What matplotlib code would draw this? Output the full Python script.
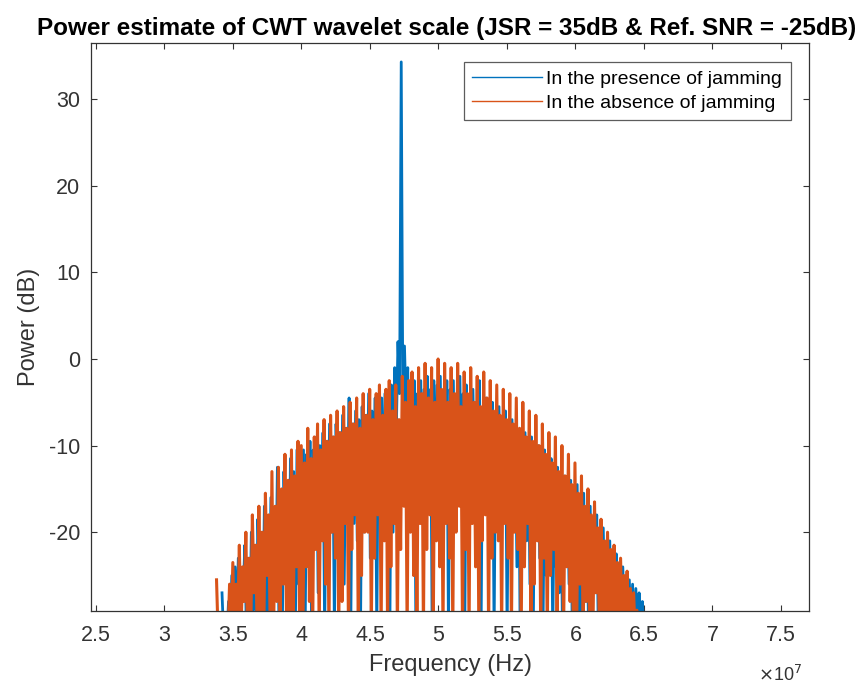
import numpy as np
import matplotlib
matplotlib.use("Agg")
import matplotlib.pyplot as plt
from matplotlib.ticker import FuncFormatter

plt.rcParams['font.family'] = ['Liberation Sans', 'DejaVu Sans']
plt.rcParams['axes.unicode_minus'] = False

# ---------------- data ----------------
# "In the absence of jamming" (orange): alternating local maxima / minima, 3.38e7 .. 6.46e7 Hz
f_abs_start, f_abs_end = 3.38e7, 6.46e7
absent_hi = [-25.5, -31, -31, -30, -26,
             -23.5, -26, -21.5, -24, -20, -23, -18, -21.5, -17, -20, -15.5, -18, -13, -17, -12.5, -15, -11, -14, -10.5, -13.5, -9.5,
             -10, -12, -8, -11.5, -9, -7.5, -10.5, -7, -9.5, -6.5, -9, -6, -8.5, -5.5, -8, -5, -7.5, -4.5, -8, -4,
             -6.5, -3.5, -7, -4, -3, -6.5, -3.5, -2.5, -6, -3, -7, -2, -5, -2.5, -1.5, -5.5, -1, -4, -0.5, -4.5,
             -1, -5, 0, -3.5, -0.5, -5, -1, -4, -0.5, -5.5, -1.5, -4, -1, -5, -2, -5.5, -1.5, -4.5, -2.5, -6,
             -3, -6.5, -3.5, -7, -4, -7.5, -4.5, -8, -5, -9, -6, -9.5, -6.5, -10, -7.5, -11, -8.5, -12, -9, -13, -10, -13.5, -11, -14.5,
             -12, -15.5, -13.5, -17, -15, -18, -16.5, -19.5, -18.5, -21, -20, -22, -21.5, -23.5, -23, -25, -24.5, -26.5, -27, -29]
absent_lo = [-32, -32, -32, -32, -32,
             -32, -30, -32, -28, -32, -32, -27, -32, -30, -32, -25, -32, -32, -28, -32, -26, -32, -30, -32, -24, -32,
             -32, -24, -28, -32, -22, -32, -21, -26, -32, -20, -23, -32, -28, -19, -32, -22, -18, -32, -25, -20,
             -20, -32, -23, -18, -32, -21, -32, -24, -19, -32, -22, -17, -32, -20, -25, -32, -19, -32, -22, -18,
             -32, -21, -24, -32, -19, -23, -32, -20, -17, -32, -22, -32, -19, -24, -32, -21, -18, -32, -23, -20,
             -21, -32, -19, -23, -32, -20, -22, -32, -24, -19, -32, -26, -21, -32, -23, -32, -25, -22, -32, -26, -32, -24, -28, -32,
             -32, -26, -32, -28, -32, -32, -27, -32, -30, -32, -32, -29, -32, -32, -32, -31, -32, -32, -32, -32]

# "In the presence of jamming" (blue): 3.42e7 .. 6.50e7 Hz, jammer spike near 4.74e7 Hz
f_pres_start, f_pres_end = 3.42e7, 6.50e7
present_hi = [-27, -31, -28, -25, -24,
              -23, -24.5, -21.5, -23, -20, -21.5, -18.5, -20, -17, -18.5, -16, -17.5, -12.5, -15.5, -13, -14.5, -11.5, -13, -10.5, -12.5, -10.5,
              -11, -9.5, -10.5, -9, -10, -8.5, -9.5, -7.5, -9, -7.5, -8.5, -6.5, -8, -4.5, -7.5, -6, -7, -5.5, -6.5, -4,
              -6, -4.5, -5.5, -4.5, -4, -5, -3, -1, 2, 34.3, 1.5, -1, -3.5, -2.5, -4, -2.5, -3.5, -2, -3.5, -2.5,
              -3, -2, -3.5, -2.5, -3.5, -2.5, -4, -2, -4, -3, -4.5, -3.5, -5, -2.5, -5.5, -4.5, -6, -5, -6.5, -5.5,
              -7, -6, -7.5, -7, -8, -8.5, -9, -8.5, -9.5, -9, -11, -10, -11.5, -10.5, -12.5, -11.5, -13.5, -12.5, -14.5, -13.5, -15, -14, -15.5, -14.5,
              -16.5, -15.5, -17.5, -17, -18.5, -18, -20, -19.5, -21, -21, -22.5, -22.5, -23.5, -24, -25, -25.5, -26, -26.5, -27, -28]
present_lo = [-32, -32, -32, -32, -30,
              -32, -27, -32, -32, -29, -32, -25, -32, -32, -30, -32, -27, -32, -32, -23, -32, -30, -32, -26, -32, -32,
              -24, -32, -21, -27, -19, -32, -24, -20, -32, -18, -22, -26, -17, -32, -19, -21, -32, -20, -18, -23,
              -17, -32, -15, -19, -16, -32, -20, -8, -4, -5, -6, -16, -18, -32, -14, -17, -21, -15, -32, -18,
              -16, -20, -15, -32, -17, -19, -14, -16, -32, -21, -17, -15, -19, -32, -16, -18, -14, -32, -20, -17,
              -18, -32, -22, -19, -24, -32, -20, -21, -26, -32, -19, -23, -32, -25, -21, -32, -24, -27, -32, -23, -26, -32, -28, -32,
              -32, -28, -32, -32, -27, -32, -32, -30, -32, -32, -29, -32, -32, -32, -31, -32, -32, -32, -30, -32]

legend_labels = ["In the presence of jamming", "In the absence of jamming"]
x_ticks = [2.5e7, 3e7, 3.5e7, 4e7, 4.5e7, 5e7, 5.5e7, 6e7, 6.5e7, 7e7, 7.5e7]
y_ticks = [-20, -10, 0, 10, 20, 30]


def series(start, end, hi, lo):
    y = np.column_stack([np.asarray(hi, float), np.asarray(lo, float)]).ravel()
    x = np.linspace(start, end, y.size)
    return x, y


xb, yb = series(f_pres_start, f_pres_end, present_hi, present_lo)
xo, yo = series(f_abs_start, f_abs_end, absent_hi, absent_lo)

# ---------------- figure ----------------
fig = plt.figure(figsize=(8.58, 6.84), dpi=100)
ax = fig.add_axes([0.1061, 0.1067, 0.8372, 0.8300])

txt = '#333333'
ax.plot(xb, yb, color='#0072BD', lw=2.0, label=legend_labels[0])
ax.plot(xo, yo, color='#D95319', lw=2.2, label=legend_labels[1])

ax.set_xlim(2.464e7, 7.707e7)
ax.set_ylim(-29.1, 36.45)
ax.set_xticks(x_ticks)
ax.set_yticks(y_ticks)
ax.xaxis.set_major_formatter(FuncFormatter(lambda v, p: '%g' % (v / 1e7)))

ax.tick_params(direction='in', top=True, right=True, length=4, width=0.8,
               labelsize=15.5, colors=txt)
ax.tick_params(axis='x', pad=10)
ax.tick_params(axis='y', pad=8)
for s in ax.spines.values():
    s.set_color(txt)
    s.set_linewidth(0.9)

ax.set_xlabel('Frequency (Hz)', fontsize=17, color=txt, labelpad=6)
ax.set_ylabel('Power (dB)', fontsize=17, color=txt, labelpad=6)
fig.text(0.52, 1 - 28 / 684, 'Power estimate of CWT wavelet scale (JSR = 35dB & Ref. SNR = -25dB)',
         fontsize=17.5, fontweight='bold', ha='center', va='center', color='black')
fig.text(802 / 858, 1 - 681 / 684, r'$\times$10$^{7}$', fontsize=13, ha='right', va='baseline', color=txt)

leg = ax.legend(loc='upper right', fontsize=14, frameon=True, fancybox=False,
                handlelength=3.6, borderaxespad=0.95, borderpad=0.45, labelspacing=0.3,
                handletextpad=0.2)
leg.get_frame().set_edgecolor(txt)
leg.get_frame().set_linewidth(0.9)
for h in leg.get_lines():
    h.set_linewidth(1.0)

fig.savefig('out.png', dpi=100)
